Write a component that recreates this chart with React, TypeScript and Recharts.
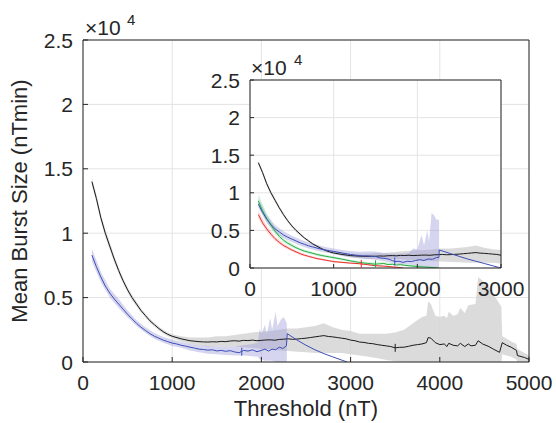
import React from 'react';
import { ComposedChart, Line, Area, Scatter, XAxis, YAxis, CartesianGrid } from 'recharts';

const FONT = "'Liberation Sans', Arial, Helvetica, sans-serif";
const AX = '#262626';

// ---- tick values ----
const mainXTicks = [0, 1000, 2000, 3000, 4000, 5000];
const insetXTicks = [0, 1000, 2000, 3000];
const yTicks = [0, 0.5, 1, 1.5, 2, 2.5];

// ---- main chart: black series (x, y in 10^4) ----
const mainBlack: [number, number][] = [
  [100, 1.4], [150, 1.27], [200, 1.12], [250, 1.0], [300, 0.9], [350, 0.8], [400, 0.71], [450, 0.63],
  [500, 0.56], [550, 0.5], [600, 0.45], [650, 0.4], [700, 0.36], [750, 0.32], [800, 0.29], [850, 0.26],
  [900, 0.235], [950, 0.215], [1000, 0.2], [1100, 0.18], [1200, 0.165], [1300, 0.158], [1350, 0.156],
  [1400, 0.155], [1450, 0.157], [1500, 0.156], [1550, 0.16], [1600, 0.158], [1650, 0.163], [1700, 0.165],
  [1750, 0.162], [1800, 0.168], [1850, 0.166], [1900, 0.17], [1950, 0.165], [2000, 0.168], [2050, 0.171],
  [2100, 0.172], [2150, 0.169], [2200, 0.175], [2250, 0.177], [2300, 0.18], [2350, 0.176], [2400, 0.178],
  [2450, 0.182], [2500, 0.185], [2550, 0.19], [2600, 0.195], [2650, 0.2], [2700, 0.205], [2750, 0.198],
  [2800, 0.195], [2850, 0.19], [2900, 0.185], [2950, 0.18], [3000, 0.17], [3050, 0.165], [3100, 0.155],
  [3150, 0.152], [3200, 0.145], [3250, 0.142], [3300, 0.135], [3350, 0.13], [3400, 0.125], [3450, 0.12],
  [3500, 0.11], [3550, 0.114], [3600, 0.115], [3650, 0.122], [3700, 0.13], [3750, 0.135], [3800, 0.14],
  [3850, 0.15], [3870, 0.19], [3900, 0.185], [3950, 0.15], [4000, 0.135], [4050, 0.14], [4080, 0.12],
  [4100, 0.145], [4150, 0.13], [4200, 0.125], [4230, 0.145], [4280, 0.12], [4320, 0.14], [4350, 0.125],
  [4400, 0.13], [4430, 0.165], [4480, 0.14], [4550, 0.12], [4600, 0.1], [4670, 0.075], [4700, 0.15],
  [4750, 0.13], [4800, 0.115], [4860, 0.09], [4870, 0.05], [4950, 0.035], [5000, 0.02],
];

// grey band (x, low, high)
const mainGrey: [number, number, number][] = [
  [100, 1.37, 1.43], [150, 1.24, 1.3], [200, 1.09, 1.15], [250, 0.97, 1.03], [300, 0.87, 0.93],
  [350, 0.775, 0.825], [400, 0.685, 0.735], [450, 0.61, 0.65], [500, 0.54, 0.58], [550, 0.48, 0.52],
  [600, 0.43, 0.47], [650, 0.385, 0.415], [700, 0.345, 0.375], [750, 0.305, 0.335], [800, 0.275, 0.305],
  [850, 0.245, 0.275], [900, 0.22, 0.25], [950, 0.2, 0.23], [1000, 0.185, 0.215], [1100, 0.16, 0.2],
  [1200, 0.14, 0.19], [1300, 0.13, 0.19], [1400, 0.12, 0.19], [1500, 0.12, 0.2], [1600, 0.12, 0.2],
  [1700, 0.12, 0.21], [1800, 0.115, 0.22], [1900, 0.11, 0.23], [2000, 0.1, 0.235], [2100, 0.1, 0.24],
  [2200, 0.09, 0.25], [2300, 0.085, 0.26], [2400, 0.08, 0.26], [2500, 0.075, 0.27], [2600, 0.07, 0.28],
  [2700, 0.07, 0.3], [2800, 0.07, 0.27], [2900, 0.07, 0.25], [3000, 0.06, 0.24], [3100, 0.05, 0.22],
  [3200, 0.04, 0.22], [3300, 0.03, 0.22], [3400, 0.015, 0.22], [3500, 0.005, 0.23], [3600, 0, 0.25],
  [3700, 0, 0.3], [3800, 0, 0.35], [3850, 0, 0.36], [3870, 0, 0.47], [3900, 0, 0.45], [3950, 0, 0.36],
  [4000, 0, 0.35], [4050, 0, 0.36], [4080, 0, 0.34], [4100, 0, 0.39], [4150, 0, 0.36], [4200, 0, 0.37],
  [4230, 0, 0.42], [4280, 0, 0.38], [4320, 0, 0.44], [4400, 0, 0.45], [4430, 0, 0.66], [4480, 0, 0.63],
  [4550, 0, 0.58], [4600, 0, 0.53], [4670, 0, 0.45], [4690, 0, 0.43], [4700, 0.06, 0.2], [4750, 0.05, 0.18],
  [4800, 0.04, 0.16], [4860, 0.02, 0.14], [4870, 0, 0.1], [4950, 0, 0.07], [5000, 0, 0.05],
];

// ---- main chart: blue series ----
const mainBlue: [number, number][] = [
  [100, 0.83], [150, 0.74], [200, 0.66], [250, 0.59], [300, 0.535], [350, 0.49], [400, 0.45], [450, 0.41],
  [500, 0.37], [550, 0.335], [600, 0.3], [650, 0.27], [700, 0.245], [750, 0.22], [800, 0.2], [850, 0.185],
  [900, 0.17], [950, 0.158], [1000, 0.147], [1050, 0.14], [1100, 0.13], [1150, 0.123], [1200, 0.115],
  [1250, 0.108], [1300, 0.1], [1350, 0.097], [1400, 0.092], [1450, 0.095], [1500, 0.086], [1550, 0.09],
  [1600, 0.083], [1650, 0.088], [1700, 0.078], [1750, 0.072], [1800, 0.09], [1850, 0.085], [1900, 0.094],
  [1950, 0.08], [2000, 0.09], [2040, 0.1], [2080, 0.085], [2120, 0.1], [2160, 0.095], [2200, 0.115],
  [2240, 0.105], [2280, 0.125], [2290, 0.22], [2400, 0.17], [2500, 0.13], [2600, 0.095], [2700, 0.065],
  [2800, 0.04], [2900, 0.015], [2960, 0],
];

const mainPurple: [number, number, number][] = [
  [100, 0.78, 0.88], [200, 0.62, 0.7], [300, 0.5, 0.57], [400, 0.42, 0.49], [500, 0.345, 0.4],
  [600, 0.28, 0.325], [700, 0.225, 0.27], [800, 0.18, 0.225], [900, 0.15, 0.195], [1000, 0.125, 0.175],
  [1100, 0.11, 0.155], [1200, 0.09, 0.14], [1300, 0.075, 0.13], [1400, 0.065, 0.125], [1500, 0.06, 0.12],
  [1600, 0.055, 0.12], [1700, 0.05, 0.12], [1800, 0.05, 0.13], [1900, 0.045, 0.14], [1960, 0.04, 0.15],
  [1980, 0.02, 0.26], [2000, 0.02, 0.22], [2040, 0.01, 0.29], [2060, 0.01, 0.22], [2100, 0.01, 0.34],
  [2120, 0.01, 0.25], [2160, 0, 0.39], [2180, 0, 0.28], [2220, 0, 0.33], [2250, 0, 0.35], [2285, 0, 0.3],
];

// ---- inset series ----
const insetBlue: [number, number][] = [
  [100, 0.85], [150, 0.74], [200, 0.65], [250, 0.58], [300, 0.52], [350, 0.48], [400, 0.44], [450, 0.41],
  [500, 0.385], [550, 0.36], [600, 0.335], [650, 0.315], [700, 0.295], [750, 0.28], [800, 0.265],
  [850, 0.25], [900, 0.24], [950, 0.23], [1000, 0.22], [1100, 0.2], [1200, 0.18], [1300, 0.165],
  [1350, 0.16], [1400, 0.162], [1450, 0.155], [1500, 0.155], [1550, 0.135], [1600, 0.128], [1650, 0.12],
  [1700, 0.1], [1730, 0.085], [1780, 0.09], [1830, 0.075], [1880, 0.09], [1930, 0.085], [1980, 0.1],
  [2030, 0.11], [2080, 0.1], [2130, 0.12], [2180, 0.115], [2230, 0.14], [2258, 0.14], [2262, 0.24],
  [2400, 0.19], [2500, 0.155], [2600, 0.12], [2700, 0.09], [2800, 0.06], [2900, 0.03], [3000, 0],
];

const insetPurple: [number, number, number][] = [
  [100, 0.8, 0.92], [200, 0.6, 0.71], [300, 0.47, 0.57], [400, 0.4, 0.49], [500, 0.345, 0.43],
  [600, 0.295, 0.38], [700, 0.26, 0.34], [800, 0.23, 0.31], [900, 0.205, 0.28], [1000, 0.185, 0.26],
  [1100, 0.165, 0.24], [1200, 0.145, 0.225], [1300, 0.13, 0.215], [1400, 0.12, 0.22], [1500, 0.11, 0.22],
  [1600, 0.09, 0.2], [1700, 0.07, 0.19], [1800, 0.05, 0.19], [1900, 0.05, 0.2], [1950, 0.04, 0.26],
  [2000, 0.03, 0.25], [2050, 0.02, 0.44], [2080, 0.02, 0.3], [2120, 0.01, 0.5], [2140, 0.01, 0.35],
  [2170, 0, 0.73], [2200, 0, 0.7], [2230, 0, 0.64], [2260, 0, 0.64],
];

const insetGreen: [number, number][] = [
  [100, 0.89], [150, 0.76], [200, 0.66], [250, 0.57], [300, 0.49], [350, 0.42], [400, 0.37], [450, 0.33],
  [500, 0.3], [550, 0.27], [600, 0.245], [650, 0.225], [700, 0.21], [750, 0.195], [800, 0.18],
  [850, 0.168], [900, 0.157], [950, 0.147], [1000, 0.138], [1100, 0.118], [1200, 0.095], [1300, 0.075],
  [1400, 0.062], [1500, 0.05], [1550, 0.056], [1600, 0.06], [1650, 0.045], [1700, 0.05], [1750, 0.04],
  [1800, 0.045], [1850, 0.035], [1900, 0.03], [2000, 0.02], [2100, 0.012], [2200, 0.005], [2260, 0],
];

const insetGreenBand: [number, number, number][] = [
  [100, 0.82, 0.98], [200, 0.61, 0.72], [300, 0.45, 0.53], [400, 0.34, 0.4], [500, 0.275, 0.325],
  [600, 0.225, 0.265], [700, 0.19, 0.23], [800, 0.16, 0.2], [900, 0.14, 0.175], [1000, 0.12, 0.155],
  [1200, 0.08, 0.11], [1400, 0.048, 0.078], [1600, 0.045, 0.075], [1800, 0.03, 0.06], [2000, 0.008, 0.035],
  [2260, 0, 0.01],
];

const insetRed: [number, number][] = [
  [100, 0.71], [150, 0.6], [200, 0.52], [250, 0.45], [300, 0.39], [350, 0.34], [400, 0.3], [450, 0.27],
  [500, 0.24], [550, 0.215], [600, 0.19], [650, 0.17], [700, 0.155], [750, 0.14], [800, 0.125],
  [850, 0.115], [900, 0.105], [950, 0.095], [1000, 0.085], [1100, 0.075], [1200, 0.065], [1300, 0.058],
  [1400, 0.045], [1500, 0.03], [1600, 0.025], [1700, 0.015], [1800, 0.005], [1830, 0],
];

const insetRedBand: [number, number, number][] = [
  [100, 0.66, 0.76], [200, 0.48, 0.56], [300, 0.36, 0.42], [400, 0.275, 0.325], [500, 0.22, 0.26],
  [600, 0.172, 0.208], [700, 0.14, 0.17], [800, 0.112, 0.138], [900, 0.093, 0.117], [1000, 0.074, 0.096],
  [1200, 0.055, 0.075], [1400, 0.036, 0.054], [1600, 0.017, 0.033], [1830, 0, 0.008],
];

// small vertical markers on the lines (x, y)
const mainBlackMark: [number, number][] = [[3500, 0.11]];
const mainBlueMark: [number, number][] = [[1780, 0.08]];
const insetRedMark: [number, number][] = [[1330, 0.055]];
const insetGreenMark: [number, number][] = [[1500, 0.05]];
const insetBlueMark: [number, number][] = [[1730, 0.085]];

const toLine = (a: [number, number][]) => a.map(([x, y]) => ({ x, y }));
const toBand = (a: [number, number, number][]) => a.map(([x, lo, hi]) => ({ x, band: [lo, hi] }));

const C_BLACK = '#1a1a1a';
const C_BLUE = '#3d4db7';
const C_RED = '#e8302b';
const C_GREEN = '#27ae45';
const C_GREY_BAND = '#d2d2d2';
const C_PURPLE_BAND = '#9a9ad8';

const bottomTick = (len: number) => (p: any) => (
  <g>
    <line x1={p.x} y1={p.y} x2={p.x} y2={p.y - len} stroke={AX} strokeWidth={1} />
    <text x={p.x} y={p.y + 28} textAnchor="middle" fontSize={21} fontFamily={FONT} fill={AX}>
      {String(p.payload.value)}
    </text>
  </g>
);
const topTick = (len: number) => (p: any) => (
  <line x1={p.x} y1={p.y} x2={p.x} y2={p.y + len} stroke={AX} strokeWidth={1} />
);
const leftTick = (len: number) => (p: any) => (
  <g>
    <line x1={p.x} y1={p.y} x2={p.x + len} y2={p.y} stroke={AX} strokeWidth={1} />
    <text x={p.x - 10} y={p.y + 7.5} textAnchor="end" fontSize={21} fontFamily={FONT} fill={AX}>
      {String(p.payload.value)}
    </text>
  </g>
);
const rightTick = (len: number) => (p: any) => (
  <line x1={p.x} y1={p.y} x2={p.x - len} y2={p.y} stroke={AX} strokeWidth={1} />
);

const markShape = (color: string) => (p: any) => (
  <line x1={p.cx} y1={p.cy - 4} x2={p.cx} y2={p.cy + 4} stroke={color} strokeWidth={1} />
);

export default function App() {
  const axisLine = { stroke: AX, strokeWidth: 1 };
  return (
    <div style={{ position: 'absolute', left: 0, top: 0, width: 556, height: 423, background: '#fff', overflow: 'hidden' }}>
      <div style={{ position: 'absolute', left: 0, top: 0 }}>
        <ComposedChart width={556} height={423} margin={{ top: 39, right: 26, bottom: 0, left: 0 }}>
          <CartesianGrid stroke="#e4e4e4" strokeWidth={1} />
          <XAxis xAxisId={0} dataKey="x" type="number" domain={[0, 5000]} ticks={mainXTicks} interval={0}
            allowDataOverflow height={61} tickSize={0} tickMargin={0} tickLine={false} axisLine={axisLine}
            tick={bottomTick(5)} />
          <XAxis xAxisId="top" orientation="top" dataKey="x" type="number" domain={[0, 5000]} ticks={mainXTicks}
            interval={0} height={1} tickSize={0} tickMargin={0} tickLine={false} axisLine={axisLine} tick={topTick(5)} />
          <YAxis yAxisId={0} dataKey="y" type="number" domain={[0, 2.5]} ticks={yTicks} interval={0} allowDataOverflow
            width={83} tickSize={0} tickMargin={0} tickLine={false} axisLine={axisLine} tick={leftTick(5)} />
          <YAxis yAxisId="right" orientation="right" type="number" domain={[0, 2.5]} ticks={yTicks} interval={0}
            width={1} tickSize={0} tickMargin={0} tickLine={false} axisLine={axisLine} tick={rightTick(5)} />
          <Area data={toBand(mainGrey)} dataKey="band" type="linear" stroke="none" fill={C_GREY_BAND} fillOpacity={0.8}
            isAnimationActive={false} activeDot={false} />
          <Area data={toBand(mainPurple)} dataKey="band" type="linear" stroke="none" fill={C_PURPLE_BAND} fillOpacity={0.42}
            isAnimationActive={false} activeDot={false} />
          <Line data={toLine(mainBlack)} dataKey="y" type="linear" stroke={C_BLACK} strokeWidth={1} dot={false}
            activeDot={false} isAnimationActive={false} />
          <Line data={toLine(mainBlue)} dataKey="y" type="linear" stroke={C_BLUE} strokeWidth={1} dot={false}
            activeDot={false} isAnimationActive={false} />
          <Scatter data={toLine(mainBlackMark)} dataKey="y" shape={markShape(C_BLACK)} isAnimationActive={false} />
          <Scatter data={toLine(mainBlueMark)} dataKey="y" shape={markShape(C_BLUE)} isAnimationActive={false} />
        </ComposedChart>
      </div>

      <div style={{ position: 'absolute', left: 170, top: 50 }}>
        <ComposedChart width={380} height={260} margin={{ top: 29, right: 48, bottom: 0, left: 0 }}>
          <CartesianGrid stroke="#e4e4e4" strokeWidth={1} fill="#ffffff" fillOpacity={1} />
          <XAxis xAxisId={0} dataKey="x" type="number" domain={[0, 3000]} ticks={insetXTicks} interval={0}
            allowDataOverflow height={42} tickSize={0} tickMargin={0} tickLine={false} axisLine={axisLine}
            tick={bottomTick(4)} />
          <XAxis xAxisId="top" orientation="top" dataKey="x" type="number" domain={[0, 3000]} ticks={insetXTicks}
            interval={0} height={1} tickSize={0} tickMargin={0} tickLine={false} axisLine={axisLine} tick={topTick(4)} />
          <YAxis yAxisId={0} dataKey="y" type="number" domain={[0, 2.5]} ticks={yTicks} interval={0} allowDataOverflow
            width={80} tickSize={0} tickMargin={0} tickLine={false} axisLine={axisLine} tick={leftTick(4)} />
          <YAxis yAxisId="right" orientation="right" type="number" domain={[0, 2.5]} ticks={yTicks} interval={0}
            width={1} tickSize={0} tickMargin={0} tickLine={false} axisLine={axisLine} tick={rightTick(4)} />
          <Area data={toBand(mainGrey)} dataKey="band" type="linear" stroke="none" fill={C_GREY_BAND} fillOpacity={0.8}
            isAnimationActive={false} activeDot={false} />
          <Area data={toBand(insetPurple)} dataKey="band" type="linear" stroke="none" fill={C_PURPLE_BAND} fillOpacity={0.42}
            isAnimationActive={false} activeDot={false} />
          <Area data={toBand(insetRedBand)} dataKey="band" type="linear" stroke="none" fill="#f07a7a" fillOpacity={0.3}
            isAnimationActive={false} activeDot={false} />
          <Area data={toBand(insetGreenBand)} dataKey="band" type="linear" stroke="none" fill="#6fd08e" fillOpacity={0.3}
            isAnimationActive={false} activeDot={false} />
          <Line data={toLine(mainBlack)} dataKey="y" type="linear" stroke={C_BLACK} strokeWidth={1} dot={false}
            activeDot={false} isAnimationActive={false} />
          <Line data={toLine(insetRed)} dataKey="y" type="linear" stroke={C_RED} strokeWidth={1} dot={false}
            activeDot={false} isAnimationActive={false} />
          <Line data={toLine(insetGreen)} dataKey="y" type="linear" stroke={C_GREEN} strokeWidth={1} dot={false}
            activeDot={false} isAnimationActive={false} />
          <Line data={toLine(insetBlue)} dataKey="y" type="linear" stroke={C_BLUE} strokeWidth={1} dot={false}
            activeDot={false} isAnimationActive={false} />
          <Scatter data={toLine(insetRedMark)} dataKey="y" shape={markShape(C_RED)} isAnimationActive={false} />
          <Scatter data={toLine(insetGreenMark)} dataKey="y" shape={markShape(C_GREEN)} isAnimationActive={false} />
          <Scatter data={toLine(insetBlueMark)} dataKey="y" shape={markShape(C_BLUE)} isAnimationActive={false} />
        </ComposedChart>
      </div>

      <svg width={556} height={423} style={{ position: 'absolute', left: 0, top: 0, pointerEvents: 'none' }}>
        <g fontFamily={FONT} fill={AX}>
          <text x={85} y={35} fontSize={21}>×10</text>
          <text x={127} y={25} fontSize={15}>4</text>
          <text x={251} y={75} fontSize={21}>×10</text>
          <text x={294} y={65} fontSize={15}>4</text>
          <text x={306} y={416} fontSize={22} textAnchor="middle">Threshold (nT)</text>
          <text x={27} y={201} fontSize={22} textAnchor="middle" transform="rotate(-90 27 201)">Mean Burst Size (nTmin)</text>
        </g>
      </svg>
    </div>
  );
}
